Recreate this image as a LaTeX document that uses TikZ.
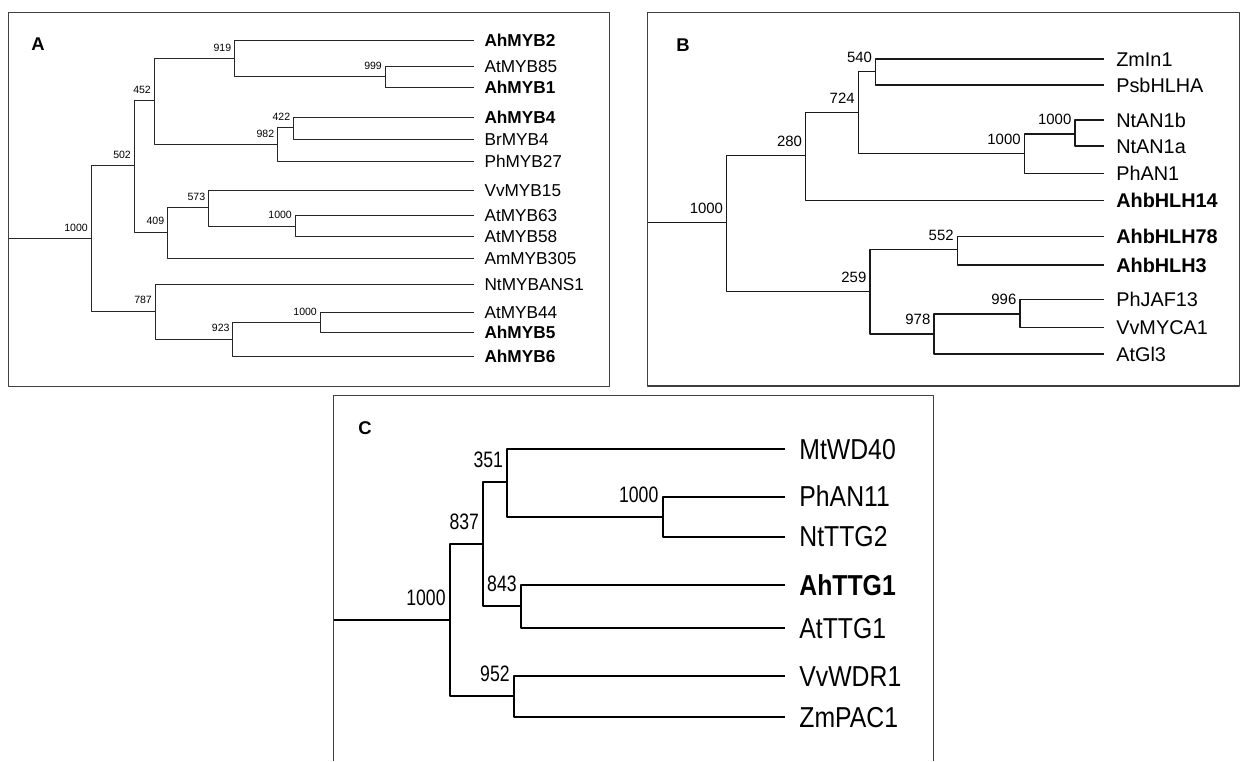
\documentclass[tikz,border=0pt]{standalone}
\usepackage{fontspec}
\setmainfont{Liberation Sans}
\usepackage{graphicx}
\usepackage{tikz}
\usetikzlibrary{positioning}
\definecolor{boxc}{RGB}{64,64,64}
\newcommand{\cnarrow}[1]{\scalebox{0.86}[1]{#1}}
\newcommand{\cbnarrow}[1]{\scalebox{0.79}[1]{#1}}

\begin{document}
\begin{tikzpicture}[x=0.02cm,y=-0.02cm,line join=round,
  frame/.style={draw=boxc,line width=0.8pt},
  panel/.style={inner sep=0pt,font=\fontsize{10.5}{12}\selectfont\bfseries},
  brA/.style={draw=black!85,line width=0.55pt},
  brB/.style={draw=black!90,line width=0.75pt},
  brC/.style={draw=black,line width=1.1pt},
  leafA/.style={anchor=west,inner xsep=5.8pt,inner ysep=0pt,text height=7pt,text depth=0pt,font=\fontsize{9.8}{11}\selectfont},
  leafB/.style={anchor=west,inner xsep=6.8pt,inner ysep=0pt,text height=8pt,text depth=0pt,font=\fontsize{11.3}{13}\selectfont},
  leafC/.style={anchor=west,inner xsep=8pt,inner ysep=0pt,text height=11.7pt,text depth=0pt,font=\fontsize{16.4}{18}\selectfont},
  bootA/.style={anchor=south east,inner sep=0pt,xshift=-1.6pt,yshift=3.8pt,font=\fontsize{6}{7}\selectfont},
  bootB/.style={anchor=south east,inner sep=0pt,xshift=-1.9pt,yshift=4.9pt,font=\fontsize{8.5}{10}\selectfont},
  bootC/.style={anchor=south east,inner sep=0pt,xshift=-2.3pt,yshift=7.9pt,font=\fontsize{12.7}{14}\selectfont}]
  \useasboundingbox (0,0) rectangle (1241,761);

  % A
  \draw[frame] (8.5,12.5) rectangle (609.5,386.5);
  \node[panel] (labA) at (38,44) {A};
  \coordinate (rootA) at (9,238.3); \coordinate (a1000) at (91,238.3); \coordinate (a502) at (134,165.7);
  \coordinate (a452) at (154,100.7); \coordinate (a919) at (234.3,58.3); \coordinate (a999) at (385,76.7);
  \coordinate (a982) at (277.3,144.7); \coordinate (a422) at (293.3,127.3);
  \coordinate (a409) at (167.3,232); \coordinate (a573) at (208.3,207.3); \coordinate (a1000b) at (295,226);
  \coordinate (a787) at (155,311); \coordinate (a923) at (232.7,339); \coordinate (a1000c) at (320,322.7);
  \node[leafA] (AhMYB2) at (474,40) {\textbf{AhMYB2}};
  \node[leafA] (AtMYB85) at (474,66.7) {AtMYB85};
  \node[leafA] (AhMYB1) at (474,87.3) {\textbf{AhMYB1}};
  \node[leafA] (AhMYB4) at (474,117.3) {\textbf{AhMYB4}};
  \node[leafA] (BrMYB4) at (474,139.3) {BrMYB4};
  \node[leafA] (PhMYB27) at (474,161.7) {PhMYB27};
  \node[leafA] (VvMYB15) at (474,190) {VvMYB15};
  \node[leafA] (AtMYB63) at (474,215.7) {AtMYB63};
  \node[leafA] (AtMYB58) at (474,236.7) {AtMYB58};
  \node[leafA] (AmMYB305) at (474,258.3) {AmMYB305};
  \node[leafA] (NtMYBANS1) at (474,284) {NtMYBANS1};
  \node[leafA] (AtMYB44) at (474,312.3) {AtMYB44};
  \node[leafA] (AhMYB5) at (474,332.7) {\textbf{AhMYB5}};
  \node[leafA] (AhMYB6) at (474,356.7) {\textbf{AhMYB6}};
  \draw[brA] (rootA) -- (a1000); \draw[brA] (a1000) |- (a502); \draw[brA] (a1000) |- (a787);
  \draw[brA] (a502) |- (a452); \draw[brA] (a502) |- (a409);
  \draw[brA] (a452) |- (a919); \draw[brA] (a452) |- (a982);
  \draw[brA] (a919) |- (AhMYB2); \draw[brA] (a919) |- (a999);
  \draw[brA] (a999) |- (AtMYB85); \draw[brA] (a999) |- (AhMYB1);
  \draw[brA] (a982) |- (a422); \draw[brA] (a982) |- (PhMYB27);
  \draw[brA] (a422) |- (AhMYB4); \draw[brA] (a422) |- (BrMYB4);
  \draw[brA] (a409) |- (a573); \draw[brA] (a409) |- (AmMYB305);
  \draw[brA] (a573) |- (VvMYB15); \draw[brA] (a573) |- (a1000b);
  \draw[brA] (a1000b) |- (AtMYB63); \draw[brA] (a1000b) |- (AtMYB58);
  \draw[brA] (a787) |- (NtMYBANS1); \draw[brA] (a787) |- (a923);
  \draw[brA] (a923) |- (a1000c); \draw[brA] (a923) |- (AhMYB6);
  \draw[brA] (a1000c) |- (AtMYB44); \draw[brA] (a1000c) |- (AhMYB5);
  \node[bootA] (ta1000) at (a1000) {1000}; \node[bootA] (ta502) at (a502) {502};
  \node[bootA] (ta452) at (a452) {452}; \node[bootA] (ta919) at (a919) {919};
  \node[bootA] (ta999) at (a999) {999}; \node[bootA] (ta982) at (a982) {982};
  \node[bootA] (ta422) at (a422) {422}; \node[bootA] (ta409) at (a409) {409};
  \node[bootA] (ta573) at (a573) {573}; \node[bootA] (ta1000b) at (a1000b) {1000};
  \node[bootA] (ta787) at (a787) {787}; \node[bootA] (ta923) at (a923) {923};
  \node[bootA] (ta1000c) at (a1000c) {1000};

  % B
  \draw[frame] (647.5,12.5) rectangle (1239.5,386);
  \node[panel] (labB) at (683,45) {B};
  \coordinate (rootB) at (648,222.7); \coordinate (b1000) at (726.7,222.7); \coordinate (b280) at (805.7,155.7);
  \coordinate (b724) at (858.3,112.3); \coordinate (b540) at (875.7,71.7);
  \coordinate (b1000b) at (1024.3,153.3); \coordinate (b1000c) at (1075,134);
  \coordinate (b259) at (870,291.7); \coordinate (b552) at (957.3,249.3);
  \coordinate (b978) at (934,334); \coordinate (b996) at (1020,314);
  \node[leafB] (ZmIn1) at (1104,59) {ZmIn1};
  \node[leafB] (PsbHLHA) at (1104,85) {PsbHLHA};
  \node[leafB] (NtAN1b) at (1104,120) {NtAN1b};
  \node[leafB] (NtAN1a) at (1104,146) {NtAN1a};
  \node[leafB] (PhAN1) at (1104,173.3) {PhAN1};
  \node[leafB] (AhbHLH14) at (1104,200.7) {\textbf{AhbHLH14}};
  \node[leafB] (AhbHLH78) at (1104,236.7) {\textbf{AhbHLH78}};
  \node[leafB] (AhbHLH3) at (1104,265) {\textbf{AhbHLH3}};
  \node[leafB] (PhJAF13) at (1104,299.3) {PhJAF13};
  \node[leafB] (VvMYCA1) at (1104,327.3) {VvMYCA1};
  \node[leafB] (AtGl3) at (1104,354) {AtGl3};
  \draw[brB] (rootB) -- (b1000); \draw[brB] (b1000) |- (b280); \draw[brB] (b1000) |- (b259);
  \draw[brB] (b280) |- (b724); \draw[brB] (b280) |- (AhbHLH14);
  \draw[brB] (b724) |- (b540); \draw[brB] (b724) |- (b1000b);
  \draw[brB] (b540) |- (ZmIn1); \draw[brB] (b540) |- (PsbHLHA);
  \draw[brB] (b1000b) |- (b1000c); \draw[brB] (b1000b) |- (PhAN1);
  \draw[brB] (b1000c) |- (NtAN1b); \draw[brB] (b1000c) |- (NtAN1a);
  \draw[brB] (b259) |- (b552); \draw[brB] (b259) |- (b978);
  \draw[brB] (b552) |- (AhbHLH78); \draw[brB] (b552) |- (AhbHLH3);
  \draw[brB] (b978) |- (b996); \draw[brB] (b978) |- (AtGl3);
  \draw[brB] (b996) |- (PhJAF13); \draw[brB] (b996) |- (VvMYCA1);
  \node[bootB] (tb1000) at (b1000) {1000}; \node[bootB] (tb280) at (b280) {280};
  \node[bootB] (tb724) at (b724) {724}; \node[bootB] (tb540) at (b540) {540};
  \node[bootB] (tb1000b) at (b1000b) {1000}; \node[bootB] (tb1000c) at (b1000c) {1000};
  \node[bootB] (tb259) at (b259) {259}; \node[bootB] (tb552) at (b552) {552};
  \node[bootB] (tb978) at (b978) {978}; \node[bootB] (tb996) at (b996) {996};

  % C
  \draw[draw=boxc,line width=0.7pt] (333.5,761) |- (933.5,395.7) -- (933.5,761);
  \node[panel] (labC) at (365,428) {C};
  \coordinate (rootC) at (334,620); \coordinate (c1000) at (450,620); \coordinate (c837) at (483.3,544);
  \coordinate (c351) at (507.3,482); \coordinate (c1000b) at (662.7,516.7);
  \coordinate (c843) at (521,606); \coordinate (c952) at (514,696);
  \node[leafC] (MtWD40) at (785,449) {\cnarrow{MtWD40}};
  \node[leafC] (PhAN11) at (785,496.7) {\cnarrow{PhAN11}};
  \node[leafC] (NtTTG2) at (785,536.7) {\cnarrow{NtTTG2}};
  \node[leafC] (AhTTG1) at (785,585) {\cnarrow{\textbf{AhTTG1}}};
  \node[leafC] (AtTTG1) at (785,628.3) {\cnarrow{AtTTG1}};
  \node[leafC] (VvWDR1) at (785,676) {\cnarrow{VvWDR1}};
  \node[leafC] (ZmPAC1) at (785,717.3) {\cnarrow{ZmPAC1}};
  \draw[brC] (rootC) -- (c1000); \draw[brC] (c1000) |- (c837); \draw[brC] (c1000) |- (c952);
  \draw[brC] (c837) |- (c351); \draw[brC] (c837) |- (c843);
  \draw[brC] (c351) |- (MtWD40); \draw[brC] (c351) |- (c1000b);
  \draw[brC] (c1000b) |- (PhAN11); \draw[brC] (c1000b) |- (NtTTG2);
  \draw[brC] (c843) |- (AhTTG1); \draw[brC] (c843) |- (AtTTG1);
  \draw[brC] (c952) |- (VvWDR1); \draw[brC] (c952) |- (ZmPAC1);
  \node[bootC] (tc1000) at (c1000) {\cbnarrow{1000}}; \node[bootC] (tc837) at (c837) {\cbnarrow{837}};
  \node[bootC] (tc351) at (c351) {\cbnarrow{351}}; \node[bootC] (tc1000b) at (c1000b) {\cbnarrow{1000}};
  \node[bootC] (tc843) at (c843) {\cbnarrow{843}}; \node[bootC] (tc952) at (c952) {\cbnarrow{952}};
\end{tikzpicture}
\end{document}
